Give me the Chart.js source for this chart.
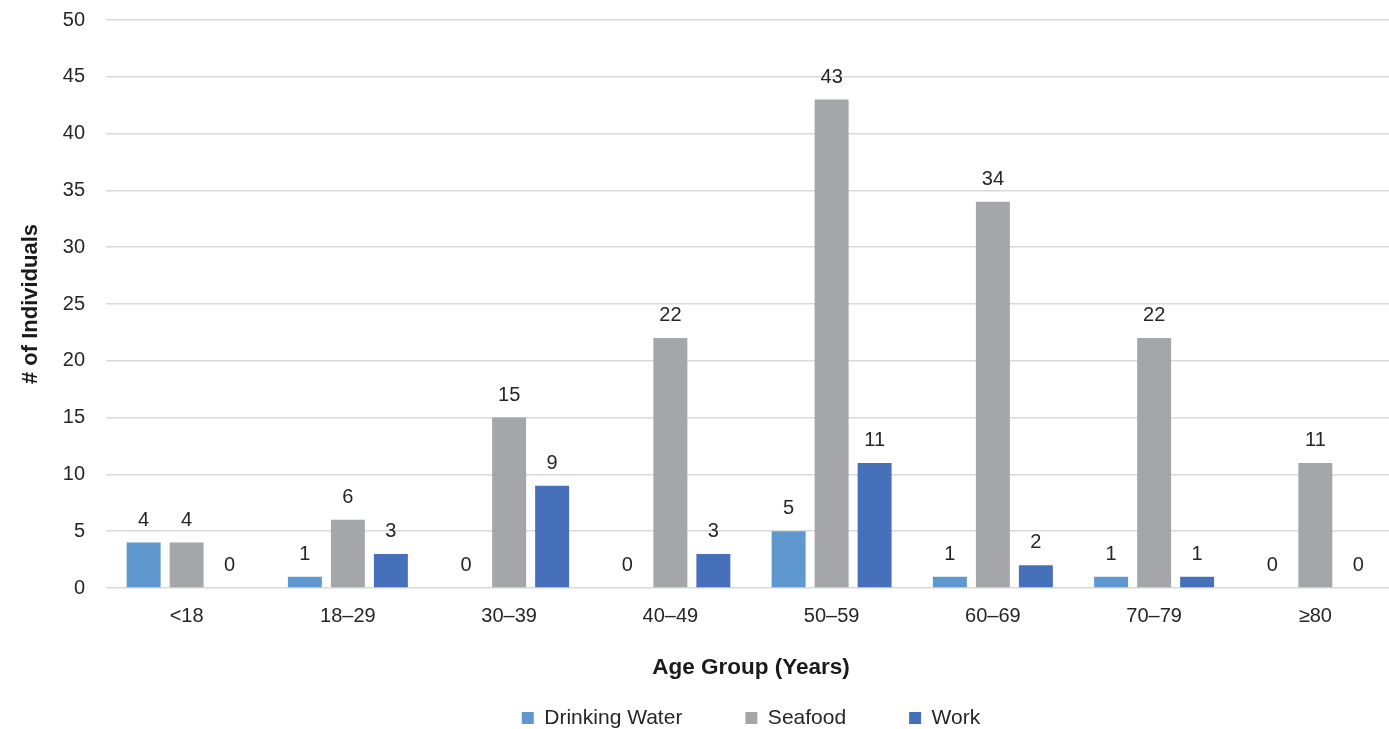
<!DOCTYPE html>
<html>
<head>
<meta charset="utf-8">
<title>Individuals by Age Group and Exposure Source</title>
<script src="https://cdn.jsdelivr.net/npm/chart.js@4/dist/chart.umd.min.js"></script>
<style>
  html, body { margin: 0; padding: 0; background: #ffffff; overflow: hidden; }
  #wrap { position: relative; width: 1396px; height: 729px; }
</style>
</head>
<body>
<div id="wrap"><canvas id="chart"></canvas></div>
<script>
// Age groups along the x axis
const ageGroups = ['<18', '18–29', '30–39', '40–49', '50–59', '60–69', '70–79', '≥80'];

// Number of individuals per exposure source
const drinkingWater = [4, 1, 0, 0, 5, 1, 1, 0];
const seafood       = [4, 6, 15, 22, 43, 34, 22, 11];
const work          = [0, 3, 9, 3, 11, 2, 1, 0];

// Y axis range
const yMin = 0;
const yMax = 50;
const yStep = 5;

const FONT = "'Liberation Sans', Arial, Helvetica, sans-serif";
const TEXT = '#262626';
Chart.defaults.font.family = FONT;
Chart.defaults.color = TEXT;

// Writes each bar's value above it
const valueLabels = {
  id: 'valueLabels',
  afterDatasetsDraw(chart) {
    const ctx = chart.ctx;
    ctx.save();
    ctx.font = '20px ' + FONT;
    ctx.fillStyle = TEXT;
    ctx.textAlign = 'center';
    ctx.textBaseline = 'middle';
    chart.data.datasets.forEach((ds, i) => {
      const meta = chart.getDatasetMeta(i);
      meta.data.forEach((bar, j) => {
        ctx.fillText(String(ds.data[j]), bar.x, bar.y - 22.5);
      });
    });
    ctx.restore();
  }
};

new Chart(document.getElementById('chart'), {
  type: 'bar',
  data: {
    labels: ageGroups,
    datasets: [
      { label: 'Drinking Water', data: drinkingWater, backgroundColor: '#5F98CE' },
      { label: 'Seafood',        data: seafood,       backgroundColor: '#A5A6A9' },
      { label: 'Work',           data: work,          backgroundColor: '#4670BA' }
    ]
  },
  options: {
    responsive: true,
    maintainAspectRatio: false,
    animation: false,
    events: [],
    layout: { padding: { top: 20, right: 0, bottom: -9.5, left: 0 } },
    datasets: {
      bar: { categoryPercentage: 0.8, barPercentage: 0.79 }
    },
    plugins: {
      tooltip: { enabled: false },
      legend: {
        position: 'bottom',
        fullSize: false,
        labels: {
          font: { size: 21, family: FONT },
          color: TEXT,
          boxWidth: 12,
          boxHeight: 12,
          padding: 63
        }
      }
    },
    scales: {
      x: {
        grid: { display: false },
        border: { display: false },
        ticks: { font: { size: 20 }, color: TEXT, padding: 8 },
        title: {
          display: true,
          text: 'Age Group (Years)',
          font: { size: 22.5, weight: 'bold' },
          color: '#1a1a1a',
          padding: { top: 0, bottom: -37 }
        },
        afterFit(scale) { scale.height = 56.5; }
      },
      y: {
        min: yMin,
        max: yMax,
        border: { display: false },
        grid: { color: '#d9d9d9', lineWidth: 1.5, drawTicks: false },
        ticks: { stepSize: yStep, font: { size: 20 }, color: TEXT, padding: 21 },
        title: {
          display: true,
          text: '# of Individuals',
          font: { size: 22, weight: 'bold' },
          color: '#1a1a1a',
          padding: { top: 18, bottom: 0 }
        },
        afterFit(scale) {
          scale.width = 106;
          scale.paddingTop = 0;
          scale.paddingBottom = 0;
        }
      }
    }
  },
  plugins: [valueLabels]
});
</script>
</body>
</html>
